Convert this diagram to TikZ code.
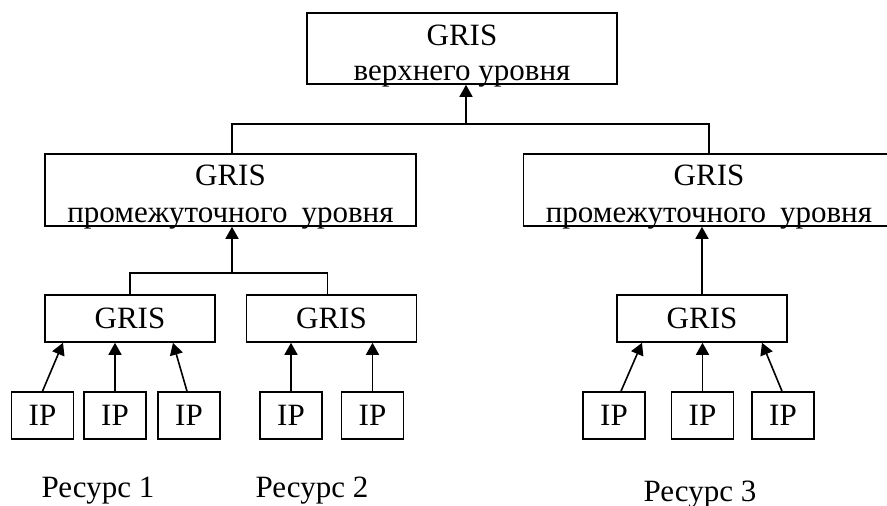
\documentclass[tikz,border=0pt]{standalone}
\usepackage{fontspec}
\setmainfont{Liberation Serif}
\usetikzlibrary{arrows.meta}
\tikzset {
  tree line/.style = {
    draw = black,
    line width = 1.6pt
  },
  % connector with an arrow head at its upper end
  arr/.style = {
    tree line,
    -{Triangle[length=12pt,width=13pt]}
  },
  % plain connector
  narr/.style = {
    tree line
  }
}
\tikzset {
  box/.style = {
    draw = black,
    line width = 1.6pt,
    inner sep = 0pt
  },
  % upper and middle servers, text is placed separately
  level/.style = {
    box,
    minimum height = 72pt
  },
  % lower GRIS server
  gris/.style = {
    box,
    minimum width = 170pt,
    minimum height = 47pt
  },
  % information provider
  ip/.style = {
    box,
    minimum width = 62pt,
    minimum height = 47pt
  },
  caption/.style = {
    anchor = base
  }
}

\begin{document}
\begin{tikzpicture}[x=1pt, y=-1pt, font=\fontsize{31}{37}\selectfont]
    \useasboundingbox (0,0) rectangle (887,506);

    % upper level
    \node[level, minimum width=310pt, minimum height=71pt] (top) at (462,48.5) {};
    \node[caption] (top-name) at ([yshift=39pt]top.south) {GRIS};
    \node[caption] (top-level) at ([yshift=4pt]top.south) {верхнего уровня};

    % middle level
    \node[level, minimum width=371pt] (mid-left) at (230.5,190) {};
    \node[caption] (mid-left-name) at ([yshift=41pt]mid-left.south) {GRIS};
    \node[caption] (mid-left-level) at ([yshift=4pt]mid-left.south) {промежуточного\hspace{0.45em}уровня};

    \node[level, minimum width=371pt] (mid-right) at (709,190) {};
    \node[caption] (mid-right-name) at ([yshift=41pt]mid-right.south) {GRIS};
    \node[caption] (mid-right-level) at ([yshift=4pt]mid-right.south) {промежуточного\hspace{0.45em}уровня};

    % lower level
    \node[gris] (gris-1) at (130,318.5) {GRIS};
    \node[gris] (gris-2) at (331.5,318.5) {GRIS};
    \node[gris] (gris-3) at (702,318.5) {GRIS};

    % resources
    \node[ip] (ip-1) at (42.5,415.5) {IP};
    \node[ip] (ip-2) at (115,415.5) {IP};
    \node[ip] (ip-3) at (189,415.5) {IP};
    \node[ip] (ip-4) at (291,415.5) {IP};
    \node[ip] (ip-5) at (372.5,415.5) {IP};
    \node[ip] (ip-6) at (614,415.5) {IP};
    \node[ip] (ip-7) at (702.5,415.5) {IP};
    \node[ip] (ip-8) at (783,415.5) {IP};

    \node[caption] (res-1) at (98,497) {Ресурс 1};
    \node[caption] (res-2) at (312,497) {Ресурс 2};
    \node[caption] (res-3) at (700,501) {Ресурс 3};

    % middle to upper
    \coordinate (top-join) at (466,124);
    \draw[narr] ([xshift=1.5pt]mid-left.north) |- (top-join) -| (mid-right.north);
    \draw[arr] (top-join) -- (top-join |- top.south);

    % lower to middle
    \coordinate (left-join) at (232,273);
    \draw[narr] (gris-1.north) |- (left-join) -| ([xshift=-4pt]gris-2.north);
    \draw[arr] (left-join) -- (left-join |- mid-left.south);
    \draw[arr] (gris-3.north) -- (gris-3.north |- mid-right.south);

    % providers to lower servers
    \draw[arr] (ip-1.north) -- ([xshift=-67pt]gris-1.south);
    \draw[arr] (ip-2.north) -- (ip-2.north |- gris-1.south);
    \draw[arr] ([xshift=-2pt]ip-3.north) -- ([xshift=43pt]gris-1.south);
    \draw[arr] (ip-4.north) -- (ip-4.north |- gris-2.south);
    \draw[arr] (ip-5.north) -- (ip-5.north |- gris-2.south);
    \draw[arr] ([xshift=7pt]ip-6.north) -- ([xshift=-60pt]gris-3.south);
    \draw[arr] (ip-7.north) -- (ip-7.north |- gris-3.south);
    \draw[arr] ([xshift=-1pt]ip-8.north) -- ([xshift=60pt]gris-3.south);
\end{tikzpicture}
\end{document}
